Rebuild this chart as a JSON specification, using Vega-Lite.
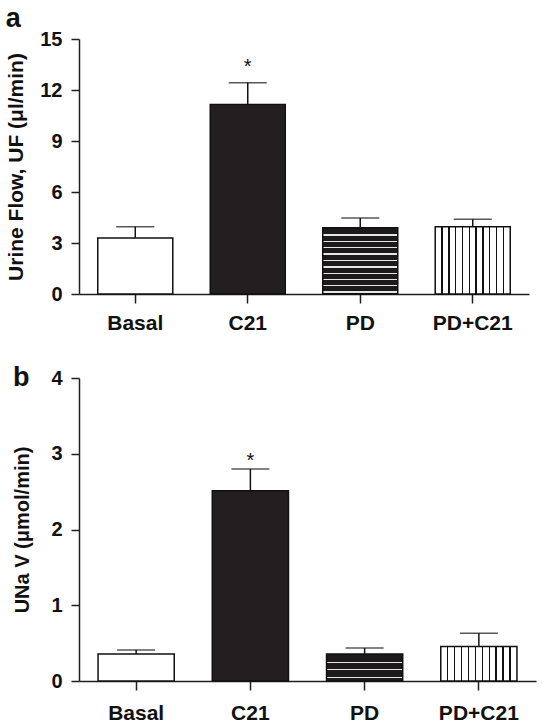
{
  "$schema": "https://vega.github.io/schema/vega-lite/v6.json",
  "padding": {"left": 5, "top": 5, "right": 5, "bottom": 0},
  "background": "white",
  "datasets": {
    "uf": [
      {"group": "Basal", "value": 3.3, "upper": 3.96, "sig": ""},
      {"group": "C21", "value": 11.15, "upper": 12.42, "sig": "*"},
      {"group": "PD", "value": 3.89, "upper": 4.47, "sig": ""},
      {"group": "PD+C21", "value": 3.95, "upper": 4.4, "sig": ""}
    ],
    "una": [
      {"group": "Basal", "value": 0.355, "upper": 0.41, "sig": ""},
      {"group": "C21", "value": 2.51, "upper": 2.8, "sig": "*"},
      {"group": "PD", "value": 0.357, "upper": 0.435, "sig": ""},
      {"group": "PD+C21", "value": 0.456, "upper": 0.63, "sig": ""}
    ]
  },
  "config": {
    "view": {"stroke": null},
    "font": "Liberation Sans",
    "axis": {
      "grid": false,
      "domainColor": "#231f20",
      "domainWidth": 1.5,
      "tickColor": "#231f20",
      "tickWidth": 1.5,
      "labelFont": "Liberation Sans",
      "labelFontWeight": "bold",
      "labelColor": "#111111",
      "titleFont": "Liberation Sans",
      "titleFontWeight": "bold",
      "titleColor": "#111111"
    },
    "axisX": {"tickSize": 9, "labelFontSize": 21, "labelAngle": 0},
    "axisY": {"tickSize": 8, "labelFontSize": 20, "labelPadding": 9, "titleFontSize": 21},
    "title": {"font": "Liberation Sans", "fontSize": 27, "fontWeight": "bold", "color": "#111111", "anchor": "start", "frame": "bounds"}
  },
  "spacing": 31,
  "vconcat": [
    {
      "title": {"text": "a", "offset": -4},
      "width": 450,
      "height": 255,
      "data": {"name": "uf"},
      "encoding": {
        "x": {"field": "group", "type": "nominal", "sort": ["Basal", "C21", "PD", "PD+C21"], "title": null,
              "scale": {"paddingInner": 0.333, "paddingOuter": 0.1667},
              "axis": {"labelPadding": 9}},
        "y": {"field": "value", "type": "quantitative", "title": "Urine Flow, UF (μl/min)",
              "scale": {"domain": [0, 15], "nice": false},
              "axis": {"values": [0, 3, 6, 9, 12, 15], "titlePadding": 13}}
      },
      "layer": [
        {
          "transform": [{"filter": "datum.group === 'Basal' || datum.group === 'C21'"}],
          "mark": {"type": "bar", "stroke": "#111111", "strokeWidth": 1.5},
          "encoding": {
            "fill": {"field": "group", "type": "nominal", "legend": null,
                     "scale": {"domain": ["Basal", "C21"], "range": ["#ffffff", "#231f20"]}}
          }
        },
        {
          "transform": [{"filter": "datum.group === 'PD'"}],
          "mark": {"type": "bar", "stroke": "#111111", "strokeWidth": 1.5,
            "fill": {"gradient": "linear", "x1": 0, "y1": 0, "x2": 0, "y2": 1, "stops": [
              {"offset": 0, "color": "#1c1a1b"},
              {"offset": 0.1, "color": "#1c1a1b"}, {"offset": 0.1, "color": "#e6e6e6"}, {"offset": 0.12, "color": "#e6e6e6"}, {"offset": 0.12, "color": "#1c1a1b"},
              {"offset": 0.195, "color": "#1c1a1b"}, {"offset": 0.195, "color": "#e6e6e6"}, {"offset": 0.215, "color": "#e6e6e6"}, {"offset": 0.215, "color": "#1c1a1b"},
              {"offset": 0.29, "color": "#1c1a1b"}, {"offset": 0.29, "color": "#e6e6e6"}, {"offset": 0.31, "color": "#e6e6e6"}, {"offset": 0.31, "color": "#1c1a1b"},
              {"offset": 0.385, "color": "#1c1a1b"}, {"offset": 0.385, "color": "#e6e6e6"}, {"offset": 0.405, "color": "#e6e6e6"}, {"offset": 0.405, "color": "#1c1a1b"},
              {"offset": 0.48, "color": "#1c1a1b"}, {"offset": 0.48, "color": "#e6e6e6"}, {"offset": 0.5, "color": "#e6e6e6"}, {"offset": 0.5, "color": "#1c1a1b"},
              {"offset": 0.58, "color": "#1c1a1b"}, {"offset": 0.58, "color": "#e6e6e6"}, {"offset": 0.6, "color": "#e6e6e6"}, {"offset": 0.6, "color": "#1c1a1b"},
              {"offset": 0.675, "color": "#1c1a1b"}, {"offset": 0.675, "color": "#e6e6e6"}, {"offset": 0.695, "color": "#e6e6e6"}, {"offset": 0.695, "color": "#1c1a1b"},
              {"offset": 0.77, "color": "#1c1a1b"}, {"offset": 0.77, "color": "#e6e6e6"}, {"offset": 0.79, "color": "#e6e6e6"}, {"offset": 0.79, "color": "#1c1a1b"},
              {"offset": 0.865, "color": "#1c1a1b"}, {"offset": 0.865, "color": "#e6e6e6"}, {"offset": 0.885, "color": "#e6e6e6"}, {"offset": 0.885, "color": "#1c1a1b"},
              {"offset": 0.96, "color": "#1c1a1b"}, {"offset": 0.96, "color": "#e6e6e6"}, {"offset": 0.98, "color": "#e6e6e6"}, {"offset": 0.98, "color": "#1c1a1b"},
              {"offset": 1, "color": "#1c1a1b"}
            ]}}
        },
        {
          "transform": [{"filter": "datum.group === 'PD+C21'"}],
          "mark": {"type": "bar", "stroke": "#111111", "strokeWidth": 1.5,
            "fill": {"gradient": "linear", "x1": 0, "y1": 0, "x2": 1, "y2": 0, "stops": [
              {"offset": 0, "color": "#ffffff"},
              {"offset": 0.082, "color": "#ffffff"}, {"offset": 0.082, "color": "#111111"}, {"offset": 0.1, "color": "#111111"}, {"offset": 0.1, "color": "#ffffff"},
              {"offset": 0.173, "color": "#ffffff"}, {"offset": 0.173, "color": "#111111"}, {"offset": 0.191, "color": "#111111"}, {"offset": 0.191, "color": "#ffffff"},
              {"offset": 0.264, "color": "#ffffff"}, {"offset": 0.264, "color": "#111111"}, {"offset": 0.282, "color": "#111111"}, {"offset": 0.282, "color": "#ffffff"},
              {"offset": 0.355, "color": "#ffffff"}, {"offset": 0.355, "color": "#111111"}, {"offset": 0.373, "color": "#111111"}, {"offset": 0.373, "color": "#ffffff"},
              {"offset": 0.446, "color": "#ffffff"}, {"offset": 0.446, "color": "#111111"}, {"offset": 0.464, "color": "#111111"}, {"offset": 0.464, "color": "#ffffff"},
              {"offset": 0.536, "color": "#ffffff"}, {"offset": 0.536, "color": "#111111"}, {"offset": 0.554, "color": "#111111"}, {"offset": 0.554, "color": "#ffffff"},
              {"offset": 0.627, "color": "#ffffff"}, {"offset": 0.627, "color": "#111111"}, {"offset": 0.645, "color": "#111111"}, {"offset": 0.645, "color": "#ffffff"},
              {"offset": 0.718, "color": "#ffffff"}, {"offset": 0.718, "color": "#111111"}, {"offset": 0.736, "color": "#111111"}, {"offset": 0.736, "color": "#ffffff"},
              {"offset": 0.809, "color": "#ffffff"}, {"offset": 0.809, "color": "#111111"}, {"offset": 0.827, "color": "#111111"}, {"offset": 0.827, "color": "#ffffff"},
              {"offset": 0.9, "color": "#ffffff"}, {"offset": 0.9, "color": "#111111"}, {"offset": 0.918, "color": "#111111"}, {"offset": 0.918, "color": "#ffffff"},
              {"offset": 1, "color": "#ffffff"}
            ]}}
        },
        {
          "mark": {"type": "rule", "color": "#111111", "strokeWidth": 1.5},
          "encoding": {"y2": {"field": "upper"}}
        },
        {
          "mark": {"type": "tick", "color": "#111111", "thickness": 1.5, "size": 38},
          "encoding": {"y": {"field": "upper", "type": "quantitative", "title": "Urine Flow, UF (μl/min)"}}
        },
        {
          "transform": [{"filter": "datum.sig === '*'"}],
          "mark": {"type": "text", "fontSize": 20, "color": "#111111", "baseline": "alphabetic", "dy": -10},
          "encoding": {
            "y": {"field": "upper", "type": "quantitative", "title": "Urine Flow, UF (μl/min)"},
            "text": {"field": "sig"}
          }
        }
      ]
    },
    {
      "title": {"text": "b", "offset": -24},
      "width": 457,
      "height": 303,
      "data": {"name": "una"},
      "encoding": {
        "x": {"field": "group", "type": "nominal", "sort": ["Basal", "C21", "PD", "PD+C21"], "title": null,
              "scale": {"paddingInner": 0.333, "paddingOuter": 0.1667},
              "axis": {"labelPadding": 12}},
        "y": {"field": "value", "type": "quantitative", "title": "UNa V (μmol/min)",
              "scale": {"domain": [0, 4], "nice": false},
              "axis": {"values": [0, 1, 2, 3, 4], "titlePadding": 18, "titleFontSize": 20}}
      },
      "layer": [
        {
          "transform": [{"filter": "datum.group === 'Basal' || datum.group === 'C21'"}],
          "mark": {"type": "bar", "stroke": "#111111", "strokeWidth": 1.5},
          "encoding": {
            "fill": {"field": "group", "type": "nominal", "legend": null,
                     "scale": {"domain": ["Basal", "C21"], "range": ["#ffffff", "#231f20"]}}
          }
        },
        {
          "transform": [{"filter": "datum.group === 'PD'"}],
          "mark": {"type": "bar", "stroke": "#111111", "strokeWidth": 1.5,
            "fill": {"gradient": "linear", "x1": 0, "y1": 0, "x2": 0, "y2": 1, "stops": [
              {"offset": 0, "color": "#1c1a1b"},
              {"offset": 0.29, "color": "#1c1a1b"}, {"offset": 0.29, "color": "#e6e6e6"}, {"offset": 0.33, "color": "#e6e6e6"}, {"offset": 0.33, "color": "#1c1a1b"},
              {"offset": 0.56, "color": "#1c1a1b"}, {"offset": 0.56, "color": "#e6e6e6"}, {"offset": 0.6, "color": "#e6e6e6"}, {"offset": 0.6, "color": "#1c1a1b"},
              {"offset": 0.84, "color": "#1c1a1b"}, {"offset": 0.84, "color": "#e6e6e6"}, {"offset": 0.88, "color": "#e6e6e6"}, {"offset": 0.88, "color": "#1c1a1b"},
              {"offset": 1, "color": "#1c1a1b"}
            ]}}
        },
        {
          "transform": [{"filter": "datum.group === 'PD+C21'"}],
          "mark": {"type": "bar", "stroke": "#111111", "strokeWidth": 1.5,
            "fill": {"gradient": "linear", "x1": 0, "y1": 0, "x2": 1, "y2": 0, "stops": [
              {"offset": 0, "color": "#ffffff"},
              {"offset": 0.082, "color": "#ffffff"}, {"offset": 0.082, "color": "#111111"}, {"offset": 0.1, "color": "#111111"}, {"offset": 0.1, "color": "#ffffff"},
              {"offset": 0.173, "color": "#ffffff"}, {"offset": 0.173, "color": "#111111"}, {"offset": 0.191, "color": "#111111"}, {"offset": 0.191, "color": "#ffffff"},
              {"offset": 0.264, "color": "#ffffff"}, {"offset": 0.264, "color": "#111111"}, {"offset": 0.282, "color": "#111111"}, {"offset": 0.282, "color": "#ffffff"},
              {"offset": 0.355, "color": "#ffffff"}, {"offset": 0.355, "color": "#111111"}, {"offset": 0.373, "color": "#111111"}, {"offset": 0.373, "color": "#ffffff"},
              {"offset": 0.446, "color": "#ffffff"}, {"offset": 0.446, "color": "#111111"}, {"offset": 0.464, "color": "#111111"}, {"offset": 0.464, "color": "#ffffff"},
              {"offset": 0.536, "color": "#ffffff"}, {"offset": 0.536, "color": "#111111"}, {"offset": 0.554, "color": "#111111"}, {"offset": 0.554, "color": "#ffffff"},
              {"offset": 0.627, "color": "#ffffff"}, {"offset": 0.627, "color": "#111111"}, {"offset": 0.645, "color": "#111111"}, {"offset": 0.645, "color": "#ffffff"},
              {"offset": 0.718, "color": "#ffffff"}, {"offset": 0.718, "color": "#111111"}, {"offset": 0.736, "color": "#111111"}, {"offset": 0.736, "color": "#ffffff"},
              {"offset": 0.809, "color": "#ffffff"}, {"offset": 0.809, "color": "#111111"}, {"offset": 0.827, "color": "#111111"}, {"offset": 0.827, "color": "#ffffff"},
              {"offset": 0.9, "color": "#ffffff"}, {"offset": 0.9, "color": "#111111"}, {"offset": 0.918, "color": "#111111"}, {"offset": 0.918, "color": "#ffffff"},
              {"offset": 1, "color": "#ffffff"}
            ]}}
        },
        {
          "mark": {"type": "rule", "color": "#111111", "strokeWidth": 1.5},
          "encoding": {"y2": {"field": "upper"}}
        },
        {
          "mark": {"type": "tick", "color": "#111111", "thickness": 1.5, "size": 38},
          "encoding": {"y": {"field": "upper", "type": "quantitative", "title": "UNa V (μmol/min)"}}
        },
        {
          "transform": [{"filter": "datum.sig === '*'"}],
          "mark": {"type": "text", "fontSize": 20, "color": "#111111", "baseline": "alphabetic", "dy": -2},
          "encoding": {
            "y": {"field": "upper", "type": "quantitative", "title": "UNa V (μmol/min)"},
            "text": {"field": "sig"}
          }
        }
      ]
    }
  ]
}
